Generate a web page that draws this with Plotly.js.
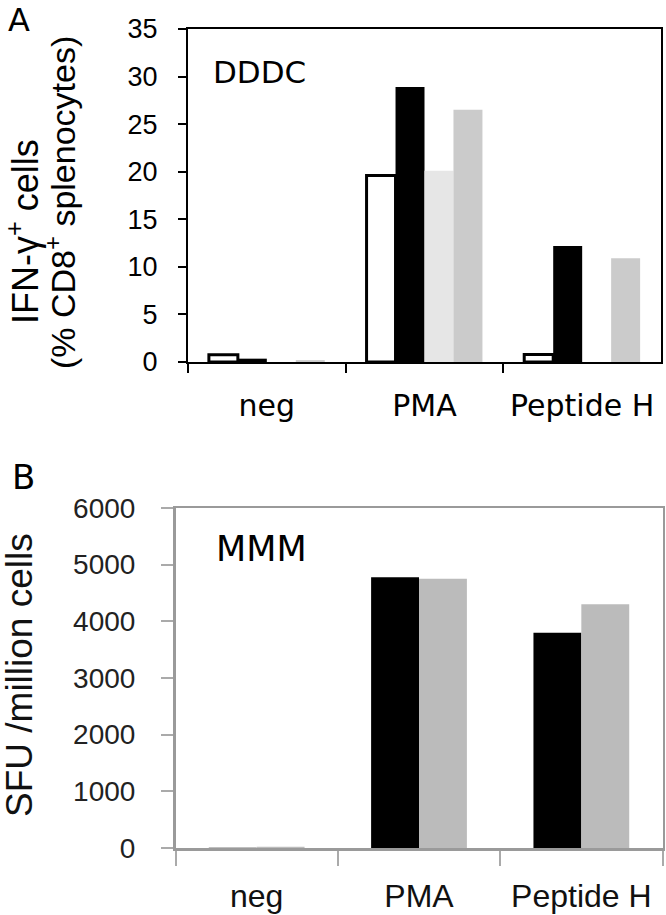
<!DOCTYPE html>
<html>
<head>
<meta charset="utf-8">
<script src="https://cdn.plot.ly/plotly-3.0.1.min.js"></script>
<style>html,body{margin:0;padding:0;background:#fff;}#chart{width:666px;height:915px;}</style>
</head>
<body>
<div id="chart"></div>
<script>
// ---- data ----
const categories = ["neg", "PMA", "Peptide H"];
// Panel A (DDDC): IFN-γ+ cells, % of CD8+ splenocytes
const a_white = [0.75, 19.6, 0.8];
const a_black = [0.35, 28.9, 12.2];
const a_light = [0, 20.1, 0];
const a_gray  = [0.2, 26.5, 10.9];
const a_ticks = [0, 5, 10, 15, 20, 25, 30, 35];
// Panel B (MMM): SFU / million cells
const b_black = [5, 4780, 3800];
const b_gray  = [20, 4750, 4300];
const b_ticks = [0, 1000, 2000, 3000, 4000, 5000, 6000];

const W = 666, H = 915;
const px = x => x / W;
const py = y => 1 - y / H;

const traces = [
  {type:'bar', x:categories, y:a_white, xaxis:'x', yaxis:'y', marker:{color:'#ffffff', line:{color:'#000', width:3}}},
  {type:'bar', x:categories, y:a_black, xaxis:'x', yaxis:'y', marker:{color:'#000000', line:{width:0}}},
  {type:'bar', x:categories, y:a_light, xaxis:'x', yaxis:'y', marker:{color:'#e6e6e6', line:{width:0}}},
  {type:'bar', x:categories, y:a_gray,  xaxis:'x', yaxis:'y', marker:{color:'#cbcbcb', line:{width:0}}},
  {type:'bar', x:categories, y:b_black, xaxis:'x2', yaxis:'y2', width:0.295, offset:-0.295, marker:{color:'#000000', line:{width:0}}},
  {type:'bar', x:categories, y:b_gray,  xaxis:'x2', yaxis:'y2', width:0.295, offset:0, marker:{color:'#bbbbbb', line:{width:0}}}
];

const layout = {
  width: W, height: H,
  margin: {l:0, r:0, t:0, b:0},
  paper_bgcolor: '#fff', plot_bgcolor: '#fff',
  showlegend: false,
  barmode: 'group', bargap: 0.265, bargroupgap: 0,
  xaxis: {
    domain: [px(188), px(661)], anchor: 'y', type: 'category',
    tickson: 'boundaries', ticks: 'outside', ticklen: 9, tickwidth: 2, tickcolor: '#000',
    showline: true, linecolor: '#000', linewidth: 2, mirror: true,
    showgrid: false, zeroline: false,
    tickfont: {family: 'DejaVu Sans', size: 30, color: '#000'},
    ticklabelstandoff: 16, fixedrange: true
  },
  yaxis: {
    domain: [py(362), py(29)], anchor: 'x',
    range: [0, 35], tickmode: 'array', tickvals: a_ticks,
    ticks: 'outside', ticklen: 8, tickwidth: 2, tickcolor: '#000',
    showline: true, linecolor: '#000', linewidth: 2, mirror: true,
    showgrid: false, zeroline: false,
    tickfont: {family: 'Liberation Sans', size: 27, color: '#000'},
    ticklabelstandoff: 15, fixedrange: true
  },
  xaxis2: {
    domain: [px(175.5), px(662.5)], anchor: 'y2', type: 'category',
    tickson: 'boundaries', ticks: 'outside', ticklen: 15, tickwidth: 2, tickcolor: '#aaaaaa',
    showline: true, linecolor: '#9a9a9a', linewidth: 2.5, mirror: true,
    showgrid: false, zeroline: false, layer: 'below traces',
    tickfont: {family: 'Liberation Sans', size: 32, color: '#111'},
    ticklabelstandoff: 18, fixedrange: true
  },
  yaxis2: {
    domain: [py(848), py(508)], anchor: 'x2',
    range: [0, 6000], tickmode: 'array', tickvals: b_ticks,
    ticks: 'outside', ticklen: 12, tickwidth: 2, tickcolor: '#aaaaaa',
    showline: true, linecolor: '#9a9a9a', linewidth: 2.5, mirror: true,
    showgrid: false, zeroline: false, layer: 'below traces',
    tickfont: {family: 'Liberation Sans', size: 28, color: '#222'},
    ticklabelstandoff: 20, fixedrange: true
  },
  annotations: [
    {text: 'A', x: px(19), y: py(0), xref: 'paper', yref: 'paper', xanchor: 'center', yanchor: 'top', showarrow: false, borderpad: 0,
     font: {family: 'DejaVu Sans', size: 32, color: '#000'}},
    {text: 'B', x: px(23), y: py(477), xref: 'paper', yref: 'paper', xanchor: 'center', yanchor: 'middle', showarrow: false,
     font: {family: 'DejaVu Sans', size: 34, color: '#000'}},
    {text: 'DDDC', x: px(259), y: py(72), xref: 'paper', yref: 'paper', xanchor: 'center', yanchor: 'middle', showarrow: false,
     font: {family: 'DejaVu Sans', size: 31, color: '#000'}},
    {text: 'MMM', x: px(261), y: py(549), xref: 'paper', yref: 'paper', xanchor: 'center', yanchor: 'middle', showarrow: false,
     font: {family: 'DejaVu Sans', size: 35, color: '#000'}},
    {text: 'IFN-γ<sup>+</sup> cells', textangle: -90, x: px(23), y: py(232), xref: 'paper', yref: 'paper', xanchor: 'center', yanchor: 'middle', showarrow: false,
     font: {family: 'Liberation Sans', size: 36, color: '#000'}},
    {text: '(% CD8<sup>+</sup> splenocytes)', textangle: -90, x: px(61), y: py(203), xref: 'paper', yref: 'paper', xanchor: 'center', yanchor: 'middle', showarrow: false,
     font: {family: 'Liberation Sans', size: 34, color: '#000'}},
    {text: 'SFU /million cells', textangle: -90, x: px(19), y: py(675), xref: 'paper', yref: 'paper', xanchor: 'center', yanchor: 'middle', showarrow: false,
     font: {family: 'Liberation Sans', size: 37, color: '#111'}}
  ]
};

Plotly.newPlot('chart', traces, layout, {staticPlot: true, displayModeBar: false});
</script>
</body>
</html>
